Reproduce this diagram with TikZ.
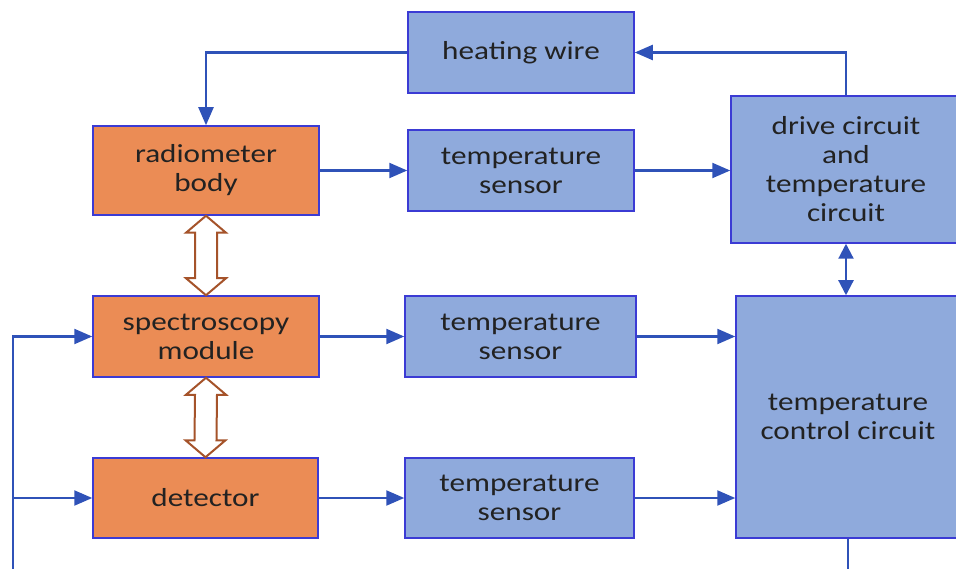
\documentclass[tikz,border=0pt]{standalone}
\usepackage{fontspec}
\setmainfont{Carlito}[FakeStretch=1.2]
\usetikzlibrary{arrows.meta,calc}
\definecolor{orangef}{HTML}{EB8C55}
\definecolor{bluef}{HTML}{8FAADC}
\definecolor{edgec}{HTML}{3B3BD4}
\definecolor{linec}{HTML}{2F52B8}
\definecolor{brownl}{HTML}{A5532A}
\definecolor{txt}{HTML}{222222}
\newcommand\holarrowdraw[2]{%
  \filldraw[fill=white, draw=brownl, line width=2pt, line join=miter]
    (#1) -- ($(#1)+(20,17)$) -- ($(#1)+(11,17)$) -- ($(#2)+(11,-17)$) -- ($(#2)+(20,-17)$)
    -- (#2) -- ($(#2)+(-20,-17)$) -- ($(#2)+(-11,-17)$) -- ($(#1)+(-11,17)$) -- ($(#1)+(-20,17)$) -- cycle;}
\begin{document}
\begin{tikzpicture}[x=1pt,y=-1pt,
  box/.style={draw=edgec, line width=1.5pt, align=center, inner sep=0pt, text=txt,
    font=\fontsize{26}{29}\selectfont},
  obox/.style={box, fill=orangef},
  bbox/.style={box, fill=bluef},
  wire/.style={draw=linec, line width=2.2pt},
  conn/.style={wire, -{Triangle[length=18pt,width=15pt]}},
  dconn/.style={wire, {Triangle[length=15pt,width=15pt]}-{Triangle[length=15pt,width=15pt]}}]
\useasboundingbox (0,0) rectangle (956,569);
\clip (0,0) rectangle (956,569);
% nodes
\node[bbox, minimum width=226pt, minimum height=81pt] (hw) at (521,52.5) {heating wire};
\node[obox, minimum width=226pt, minimum height=89pt] (rb) at (206,170.5) {radiometer\\body};
\node[bbox, minimum width=226pt, minimum height=81pt] (ts1) at (521,170.5) {temperature\\sensor};
\node[bbox, minimum width=230pt, minimum height=147pt] (dc) at (846,169.5) {drive circuit\\and\\temperature\\circuit};
\node[obox, minimum width=226pt, minimum height=81pt] (sm) at (206,336.5) {spectroscopy\\module};
\node[bbox, minimum width=231pt, minimum height=81pt] (ts2) at (520.5,336.5) {temperature\\sensor};
\node[bbox, minimum width=224pt, minimum height=242pt] (tcc) at (848,417) {temperature\\control circuit};
\node[obox, minimum width=225pt, minimum height=80pt] (det) at (205.5,498) {detector};
\node[bbox, minimum width=229pt, minimum height=80pt] (ts3) at (519.5,498) {temperature\\sensor};
% connectors
\draw[conn] (dc.north) |- (hw.east);
\draw[conn] (hw.west) -| (rb.north);
\draw[conn] (rb.east) -- (ts1.west);
\draw[conn] (ts1.east) -- (ts1.east -| dc.west);
\draw[dconn] (dc.south) -- (dc.south |- tcc.north);
\draw[conn] (sm.east) -- (ts2.west);
\draw[conn] (ts2.east) -- (ts2.east -| tcc.west);
\draw[conn] (det.east) -- (ts3.west);
\draw[conn] (ts3.east) -- (ts3.east -| tcc.west);
\coordinate (lb) at (13,580);
\draw[conn] (lb) |- (sm.west);
\draw[conn] (lb |- det.west) -- (det.west);
\coordinate (bb) at (848,580);
\draw[wire] (tcc.south) -- (bb);
% hollow double arrows
\holarrowdraw{rb.south}{sm.north}
\holarrowdraw{sm.south}{det.north}
\end{tikzpicture}
\end{document}
